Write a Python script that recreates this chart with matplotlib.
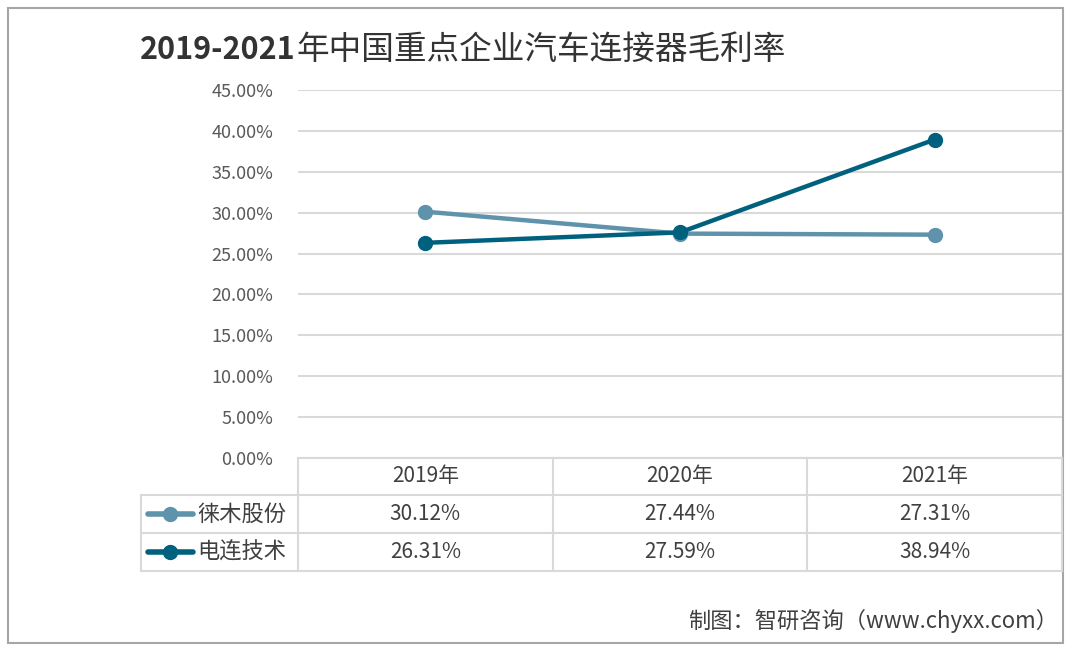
import matplotlib.pyplot as plt
from matplotlib.lines import Line2D

# --- Données ---
years = ["2019年", "2020年", "2021年"]
laimu = [30.12, 27.44, 27.31]
dianlian = [26.31, 27.59, 38.94]
series_names = ["徕木股份", "电连技术"]
series_colors = ["#5E93AB", "#00617F"]
yticks = [0, 5, 10, 15, 20, 25, 30, 35, 40, 45]

title_num = "2019-2021"
title_cjk = "年中国重点企业汽车连接器毛利率"
source = "制图：智研咨询（www.chyxx.com）"

W, H = 1072, 651
cjk = ["Noto Sans CJK SC", "DejaVu Sans"]

fig = plt.figure(figsize=(W / 100, H / 100), dpi=100)

# fond en pixels pour le cadre et le tableau
bg = fig.add_axes([0, 0, 1, 1])
bg.set_xlim(0, W)
bg.set_ylim(H, 0)
bg.axis("off")

def px(x0, y0, x1, y1):
    return [x0 / W, 1 - y1 / H, (x1 - x0) / W, (y1 - y0) / H]

# --- Graphique ---
left, right, top, bottom = 298, 1062, 90, 458
ax = fig.add_axes(px(left, top, right, bottom))
x = list(range(len(years)))
for vals, name, col in zip([laimu, dianlian], series_names, series_colors):
    ax.plot(x, vals, color=col, lw=3.2, marker="o", ms=10, solid_capstyle="round", label=name, zorder=3)
ax.set_xlim(-0.5, len(years) - 0.5)
ax.set_ylim(0, 45)
ax.set_yticks(yticks)
ax.set_yticklabels([f"{v:.2f}%" for v in yticks], family=cjk, fontsize=13, color="#595959")
ax.tick_params(axis="y", length=0, pad=18)
ax.set_xticks([])
ax.grid(axis="y", color="#D9D9D9", lw=1.5)
ax.set_axisbelow(True)
for s in ax.spines.values():
    s.set_visible(False)
ax.patch.set_alpha(0)

# --- Tableau de données ---
line_col = "#D9D9D9"
row_y = [bottom, 495, 533, 571]
col_w = (right - left) / len(years)
col_x = [left + i * col_w for i in range(len(years) + 1)]
tab_left = 141

bg.plot([left, right], [row_y[0], row_y[0]], color=line_col, lw=1.5)
for yy in row_y[1:]:
    bg.plot([tab_left, right], [yy, yy], color=line_col, lw=1.5)
for xx in col_x:
    bg.plot([xx, xx], [row_y[0], row_y[-1]], color=line_col, lw=1.5)
bg.plot([tab_left, tab_left], [row_y[1], row_y[-1]], color=line_col, lw=1.5)

for i, yr in enumerate(years):
    cx = (col_x[i] + col_x[i + 1]) / 2
    bg.text(cx, (row_y[0] + row_y[1]) / 2, yr, ha="center", va="center",
            family=cjk, fontsize=15, color="#404040")

for r, (vals, name, col) in enumerate(zip([laimu, dianlian], series_names, series_colors)):
    cy = (row_y[r + 1] + row_y[r + 2]) / 2
    bg.add_line(Line2D([148, 193], [cy, cy], color=col, lw=4, solid_capstyle="round"))
    bg.plot([170], [cy], marker="o", ms=10, color=col)
    bg.text(197, cy, name, ha="left", va="center", family=cjk, fontsize=16, color="#404040")
    for i, v in enumerate(vals):
        cx = (col_x[i] + col_x[i + 1]) / 2
        bg.text(cx, cy, f"{v:.2f}%", ha="center", va="center",
                family=cjk, fontsize=15, color="#404040")

# --- Titre ---
t1 = bg.text(140, 50, title_num, ha="left", va="center", family=cjk,
             fontweight="bold", fontsize=22, color="#333333")
fig.canvas.draw()
ext = t1.get_window_extent()
bg.text(ext.x1 + 1, 50, title_cjk, ha="left", va="center", family=cjk,
        fontsize=23.5, color="#333333")

# --- Source ---
bg.text(1058, 621, source, ha="right", va="center", family=cjk, fontsize=16, color="#404040")

# --- Cadre ---
bg.add_patch(plt.Rectangle((8, 8), 1055, 635, fill=False, edgecolor="#A6A6A6", lw=1.5))

fig.savefig("out.png", dpi=100)
